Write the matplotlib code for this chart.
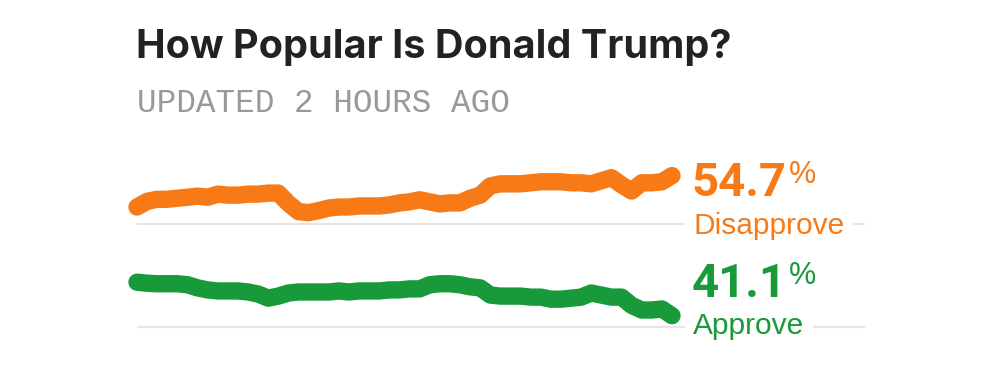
import numpy as np
from matplotlib import pyplot as plt

# valores (indice = muestra, aprox. cada 2 dias)
disapprove = [51.65, 52.2, 52.4, 52.4, 52.5, 52.6, 52.7, 52.6, 52.9, 52.8,
              52.8, 52.9, 52.9, 53.0, 53.0, 52.0, 51.2, 51.1, 51.3, 51.55,
              51.65, 51.65, 51.75, 51.75, 51.75, 51.85, 52.05, 52.15, 52.35, 52.15,
              51.95, 52.05, 52.05, 52.5, 52.8, 53.7, 53.9, 53.9, 53.9, 54.0,
              54.1, 54.1, 54.1, 54.0, 54.0, 53.9, 54.2, 54.5, 53.8, 53.2,
              54.0, 54.0, 54.1, 54.7]
approve = [44.35, 44.25, 44.2, 44.2, 44.2, 44.1, 43.8, 43.6, 43.5, 43.5,
           43.5, 43.4, 43.2, 42.8, 43.0, 43.3, 43.4, 43.4, 43.4, 43.4,
           43.5, 43.4, 43.5, 43.5, 43.5, 43.6, 43.6, 43.7, 43.7, 44.1,
           44.2, 44.2, 44.1, 43.9, 43.8, 43.1, 43.0, 43.0, 43.0, 42.9,
           42.9, 42.7, 42.7, 42.8, 42.9, 43.3, 43.1, 42.9, 42.9, 42.1,
           41.65, 41.65, 41.75, 41.1]
gridlines = [40, 50]

naranja = "#F77A17"
verde = "#18993A"

W, H = 1000, 368
fig = plt.figure(figsize=(10, 3.68), dpi=100)

# ejes: x de 137 a 865 px, y 40 -> 327 px, 10.3 px por punto
ax = fig.add_axes([137 / W, 1 - 347.6 / H, 728 / W, 206 / H])
n = len(disapprove)
xs = np.arange(n)
ax.set_xlim(0, (n - 1) * 728 / 535)
ax.set_ylim(38, 58)
ax.axis("off")

for g in gridlines:
    ax.axhline(g, color="#e6e6e6", lw=1.6, zorder=1)

ax.plot(xs, disapprove, color=naranja, lw=12.5, solid_capstyle="round",
        solid_joinstyle="round", clip_on=False, zorder=2)
ax.plot(xs, approve, color=verde, lw=12.5, solid_capstyle="round",
        solid_joinstyle="round", clip_on=False, zorder=2)


def px(x, y):
    return x / W, 1 - y / H


fig.text(*px(136, 58), "How Popular Is Donald Trump?", fontsize=28.5,
         fontweight="bold", family="Inter", color="#222222", va="baseline")
fig.text(*px(137, 112), "UPDATED 2 HOURS AGO", fontsize=23.5,
         family="Liberation Mono", color="#999999", va="baseline")

blanco = dict(facecolor="white", edgecolor="none", pad=6)

t1 = fig.text(*px(692, 196), f"{disapprove[-1]:.1f}", fontsize=34,
              fontweight="bold", family="Roboto", color=naranja, va="baseline")
fig.text(*px(693, 234), "Disapprove", fontsize=21.5, family="Liberation Sans",
         color=naranja, va="baseline", bbox=blanco, zorder=3)
t2 = fig.text(*px(692, 297), f"{approve[-1]:.1f}", fontsize=34,
              fontweight="bold", family="Roboto", color=verde, va="baseline")
fig.text(*px(693, 334), "Approve", fontsize=21.5, family="Liberation Sans",
         color=verde, va="baseline", bbox=blanco, zorder=3)

for t, c in [(t1, naranja), (t2, verde)]:
    ax.annotate("%", xy=(1, 1), xycoords=t, xytext=(1, 1),
                textcoords="offset points", fontsize=22, family="Liberation Sans",
                color=c, va="top", ha="left")

fig.savefig("out.png", dpi=100)
